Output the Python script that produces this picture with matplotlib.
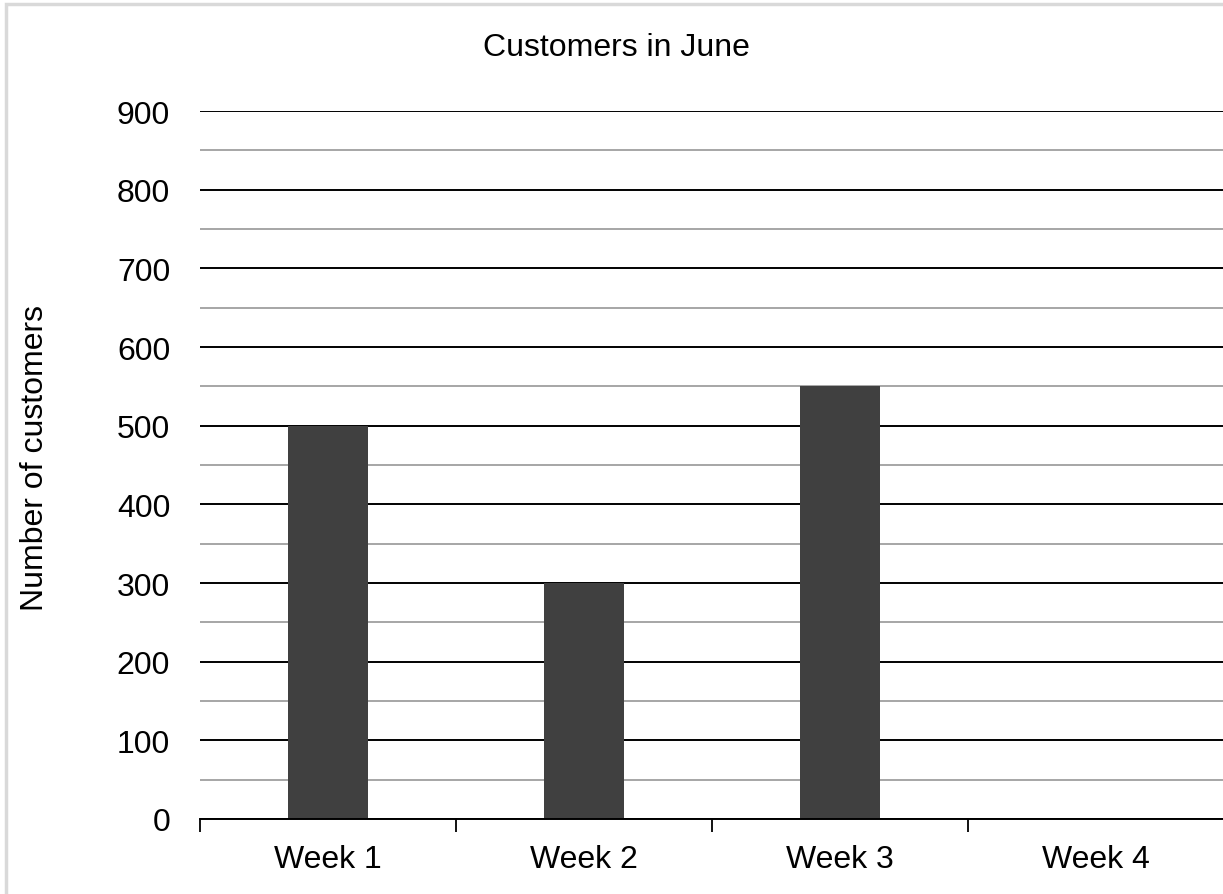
import matplotlib
matplotlib.use('Agg')
from matplotlib import pyplot as plt
from matplotlib.patches import Rectangle
import numpy as np

plt.rcParams['font.family'] = ['Liberation Sans', 'DejaVu Sans']

weeks = ['Week 1', 'Week 2', 'Week 3', 'Week 4']
customers = [500, 300, 550, 0]

W, H = 1223, 895
fig = plt.figure(figsize=(W / 100, H / 100), dpi=100)
# axes runs slightly past the right edge, as in the reference
ax = fig.add_axes([200 / W, 75 / H, 1024 / W, 708 / H])

x = np.arange(len(weeks))
ax.bar(x, customers, width=0.3125, color='#404040', zorder=3)

ax.set_xlim(-0.5, len(weeks) - 0.5)
ax.set_ylim(0, 900)

ax.set_yticks(np.arange(0, 901, 100))
ax.set_yticks(np.arange(50, 900, 100), minor=True)
ax.set_xticks(x)
ax.set_xticklabels(weeks)
ax.set_xticks(np.arange(-0.5, len(weeks) - 0.5, 1), minor=True)

ax.grid(axis='y', which='major', color='black', linewidth=1.4, zorder=1)
ax.grid(axis='y', which='minor', color='#a6a6a6', linewidth=1.4, zorder=1)

ax.tick_params(axis='y', which='both', length=0, labelsize=23, pad=21.5)
ax.tick_params(axis='x', which='major', length=0, labelsize=23, pad=18)
ax.tick_params(axis='x', which='minor', length=9, width=1.3, color='black')

for s in ['top', 'right', 'left']:
    ax.spines[s].set_visible(False)
ax.spines['bottom'].set_linewidth(1.4)
ax.spines['bottom'].set_zorder(4)

ax.set_ylabel('Number of customers', fontsize=23, va='center')
ax.yaxis.set_label_coords(-0.161, 0.511)
fig.text(616 / W, 1 - 48 / H, 'Customers in June', fontsize=23,
         ha='center', va='center')

# light frame, cut off at the right and bottom edges
fig.patches.append(Rectangle((6 / W, -0.1), 1.2, 1.1 - 5 / H,
                             transform=fig.transFigure, fill=False,
                             edgecolor='#d9d9d9', linewidth=2.5))

fig.savefig('out.png', dpi=100)
